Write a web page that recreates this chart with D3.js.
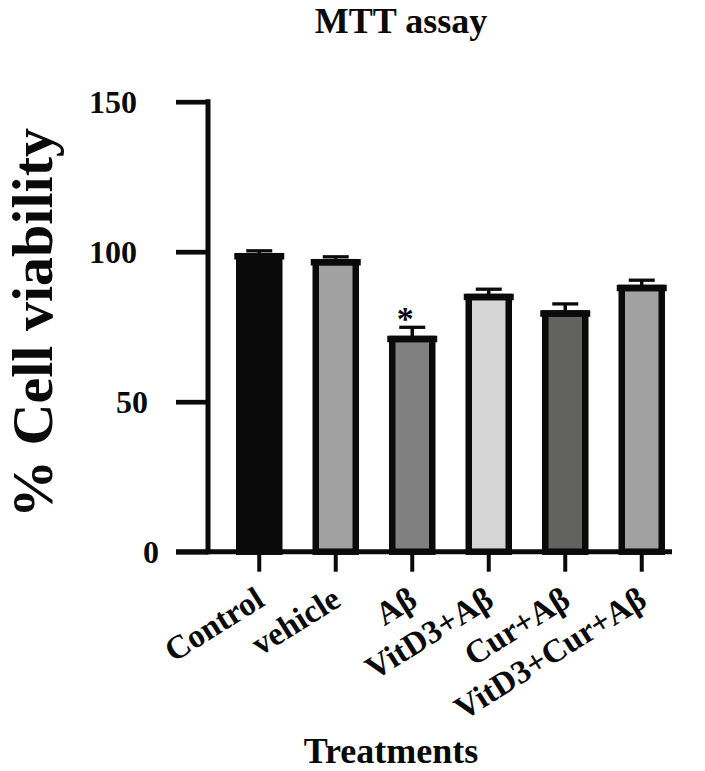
<!DOCTYPE html>
<html>
<head>
<meta charset="utf-8">
<script src="https://cdn.jsdelivr.net/npm/d3@7"></script>
<style>
  body { margin: 0; background: #fff; }
  text { font-family: "Liberation Serif", "Times New Roman", serif; font-weight: bold; fill: #0a0a0a; }
</style>
</head>
<body>
<div class="draw"></div>
<script>
const width = 705
const height = 771

// data
const categories = ["Control", "vehicle", "Aβ", "VitD3+Aβ", "Cur+Aβ", "VitD3+Cur+Aβ"]
const values = [98.5, 96.5, 70.9, 84.9, 79.4, 87.9]
const errors = [1.8, 1.8, 3.9, 2.6, 3.2, 2.6]
const fills = ["#0a0a0a", "#a1a1a1", "#7f807f", "#d4d5d4", "#626261", "#a1a1a1"]
const significant = [false, false, true, false, false, false]
const yTicks = [0, 50, 100, 150]

const ink = "#0a0a0a"
const axisX = 208
const axisW = 5

let svg = d3.select("div.draw")
    .append("svg")
    .attr("width", width)
    .attr("height", height)

let x = d3.scaleBand()
    .domain(categories)
    .range([221, 680])
    .paddingInner(0.477)
    .paddingOuter(0.2385)

let y = d3.scaleLinear()
    .domain([0, 150])
    .range([551.7, 101.7])

let cx = (d) => x(d) + x.bandwidth() / 2

// y axis
let yAxis = svg.append("g")
    .attr("transform", "translate(" + axisX + ",0)")
    .call(d3.axisLeft(y).tickValues(yTicks).tickSize(32).tickSizeOuter(0).tickPadding(0))

yAxis.select(".domain").remove()
yAxis.append("line")
    .attr("x1", 0).attr("x2", 0)
    .attr("y1", y(150)).attr("y2", y(0))
    .attr("stroke", ink)
    .attr("stroke-width", axisW)
    .attr("stroke-linecap", "square")
yAxis.selectAll(".tick line")
    .attr("stroke", ink)
    .attr("stroke-width", 4.7)
// the original labels drift left with their length, keep that
yAxis.selectAll(".tick text")
    .attr("x", (d) => -49 - 11 * (String(d).length - 1))
    .attr("dy", 11)
    .attr("text-anchor", "end")
    .attr("font-family", null)
    .attr("font-size", null)
    .style("font-size", "32px")

// x axis
let xAxis = svg.append("g")
    .attr("transform", "translate(0," + y(0) + ")")

xAxis.append("line")
    .attr("x1", 176).attr("x2", 672)
    .attr("stroke", ink)
    .attr("stroke-width", axisW)

xAxis.selectAll("line.tick")
    .data(categories)
    .enter()
    .append("line")
    .attr("class", "tick")
    .attr("x1", cx).attr("x2", cx)
    .attr("y1", 0).attr("y2", 20)
    .attr("stroke", ink)
    .attr("stroke-width", 4)

xAxis.selectAll("text.label")
    .data(categories)
    .enter()
    .append("text")
    .attr("class", "label")
    .attr("text-anchor", "end")
    .attr("transform", (d) => "translate(" + (cx(d) + 7) + ",53) rotate(-32)")
    .style("font-size", "33px")
    .text((d) => d)

// bars
let bars = svg.selectAll("g.bar")
    .data(categories)
    .enter()
    .append("g")
    .attr("class", "bar")

bars.append("rect")
    .attr("x", (d) => x(d))
    .attr("width", x.bandwidth())
    .attr("y", (d, i) => y(values[i]))
    .attr("height", (d, i) => y(0) - y(values[i]))
    .attr("fill", (d, i) => fills[i])
    .attr("stroke", ink)
    .attr("stroke-width", 6.5)

bars.append("line")
    .attr("x1", (d) => cx(d) - 25)
    .attr("x2", (d) => cx(d) + 25)
    .attr("y1", (d, i) => y(values[i]))
    .attr("y2", (d, i) => y(values[i]))
    .attr("stroke", ink)
    .attr("stroke-width", 6.5)

// error bars (upper only)
bars.append("line")
    .attr("x1", cx).attr("x2", cx)
    .attr("y1", (d, i) => y(values[i]) - 3)
    .attr("y2", (d, i) => y(values[i] + errors[i]))
    .attr("stroke", ink)
    .attr("stroke-width", 3.5)

bars.append("line")
    .attr("x1", (d) => cx(d) - 13)
    .attr("x2", (d) => cx(d) + 13)
    .attr("y1", (d, i) => y(values[i] + errors[i]))
    .attr("y2", (d, i) => y(values[i] + errors[i]))
    .attr("stroke", ink)
    .attr("stroke-width", 3.3)

bars.filter((d, i) => significant[i])
    .append("text")
    .attr("text-anchor", "middle")
    .attr("x", (d) => cx(d) - 7)
    .attr("y", (d) => {
      let i = categories.indexOf(d)
      return y(values[i] + errors[i]) + 3
    })
    .style("font-size", "34px")
    .text("*")

// titles
svg.append("text")
    .attr("x", 401)
    .attr("y", 33)
    .attr("text-anchor", "middle")
    .style("font-size", "36px")
    .text("MTT assay")

svg.append("text")
    .attr("x", 391)
    .attr("y", 763)
    .attr("text-anchor", "middle")
    .style("font-size", "36px")
    .text("Treatments")

svg.append("text")
    .attr("transform", "translate(52,323) rotate(-90)")
    .attr("text-anchor", "middle")
    .style("font-size", "58px")
    .text("% Cell viability")
</script>
</body>
</html>
